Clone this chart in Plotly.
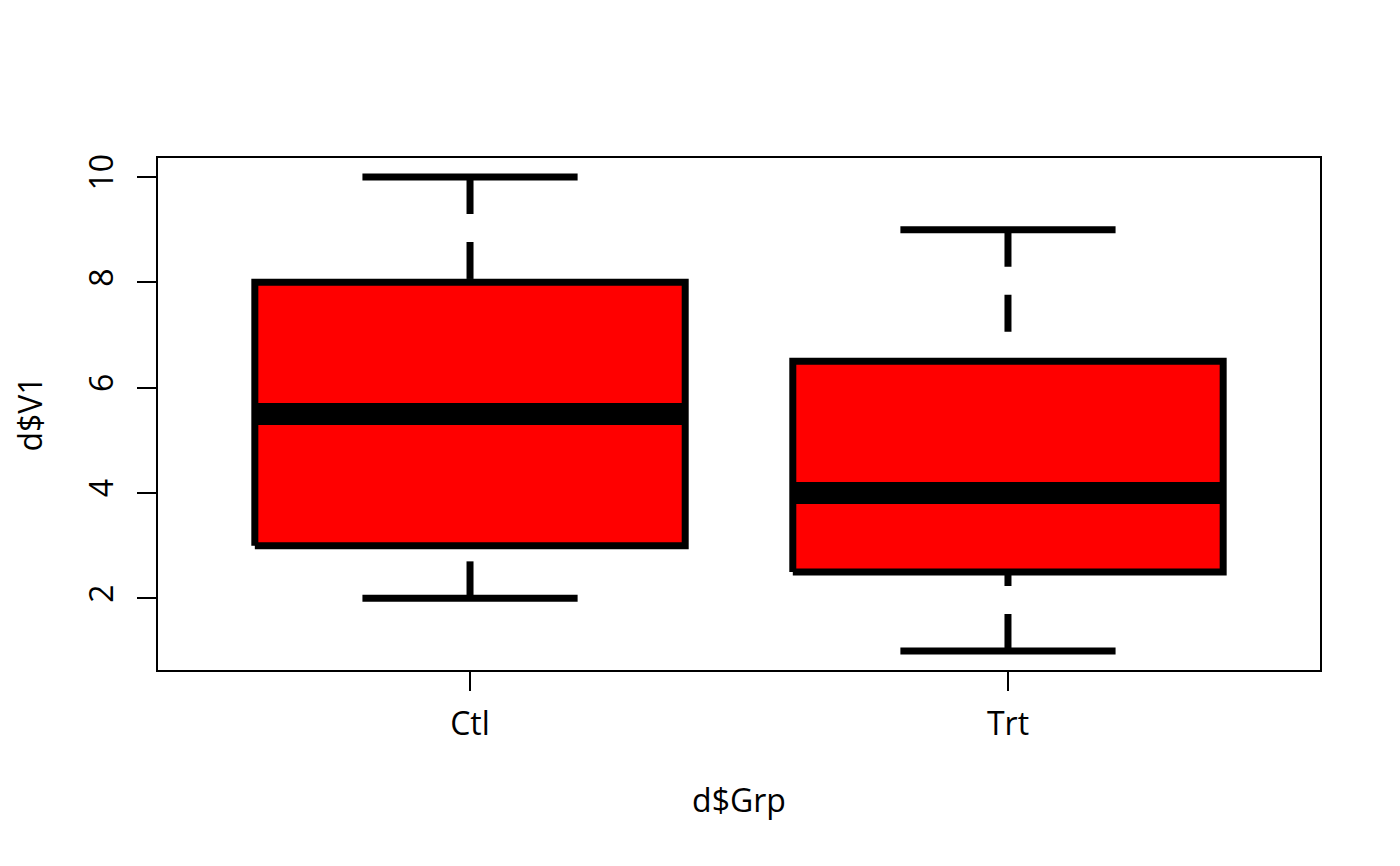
import plotly.graph_objects as go

groups = ["Ctl", "Trt"]
lower = [2, 1]
q1 = [3, 2.5]
median = [5.5, 4]
q3 = [8, 6.5]
upper = [10, 9]
positions = [1, 2]

BOX_HALF = 0.4
CAP_HALF = 0.2
FONT = dict(family="Open Sans", size=32, color="black")

fig = go.Figure()
for i, g in enumerate(groups):
    x = positions[i]
    # whiskers (dashed), drawn from whisker end toward box
    fig.add_trace(go.Scatter(x=[x, x], y=[upper[i], q3[i]], mode="lines",
                             line=dict(color="black", width=7, dash="37px,28px"),
                             hoverinfo="skip"))
    fig.add_trace(go.Scatter(x=[x, x], y=[lower[i], q1[i]], mode="lines",
                             line=dict(color="black", width=7, dash="37px,28px"),
                             hoverinfo="skip"))
    # caps
    fig.add_trace(go.Scatter(x=[x - CAP_HALF, x + CAP_HALF], y=[upper[i], upper[i]], mode="lines",
                             line=dict(color="black", width=7), hoverinfo="skip"))
    fig.add_trace(go.Scatter(x=[x - CAP_HALF, x + CAP_HALF], y=[lower[i], lower[i]], mode="lines",
                             line=dict(color="black", width=7), hoverinfo="skip"))
    # box
    fig.add_trace(go.Scatter(
        x=[x - BOX_HALF, x + BOX_HALF, x + BOX_HALF, x - BOX_HALF, x - BOX_HALF],
        y=[q1[i], q1[i], q3[i], q3[i], q1[i]],
        mode="lines", fill="toself", fillcolor="#FF0000",
        line=dict(color="black", width=7), name=g, hoverinfo="skip"))
    # median
    fig.add_trace(go.Scatter(x=[x - BOX_HALF, x + BOX_HALF], y=[median[i], median[i]], mode="lines",
                             line=dict(color="black", width=22), hoverinfo="skip"))

fig.update_layout(
    width=1400, height=866,
    paper_bgcolor="white", plot_bgcolor="white",
    margin=dict(l=150, r=88, t=150, b=204),
    showlegend=False,
    font=FONT,
)
fig.update_xaxes(
    range=[0.42, 2.58], tickvals=positions, ticktext=groups, automargin=False,
    ticks="outside", ticklen=19, tickwidth=2, tickcolor="black",
    showline=True, linecolor="black", linewidth=2, mirror=True,
    showgrid=False, zeroline=False, tickfont=FONT, ticklabelstandoff=6,
    title=dict(text="d$Grp", font=FONT, standoff=46),
)
fig.update_yaxes(
    range=[0.64, 10.36], tickvals=[2, 4, 6, 8, 10], automargin=False,
    ticks="outside", ticklen=19, tickwidth=2, tickcolor="black",
    showline=True, linecolor="black", linewidth=2, mirror=True,
    showgrid=False, zeroline=False, tickfont=FONT, tickangle=-90, ticklabelstandoff=11,
    title=dict(text="d$V1", font=FONT, standoff=46),
)
fig.write_html("out.html")
